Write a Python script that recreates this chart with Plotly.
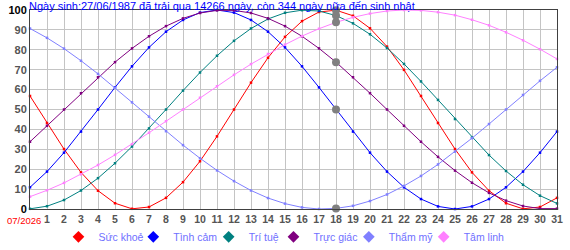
import plotly.graph_objects as go

days = list(range(0, 32))
x_labels = [str(d) for d in range(1, 32)]
month_label = "07/2026"
title_text = "Ngày sinh:27/06/1987 đã trải qua 14266 ngày, còn 344 ngày nữa đến sinh nhật"
today = 18

names = ["Sức khoẻ", "Tình cảm", "Trí tuệ", "Trực giác", "Thẩm mỹ", "Tâm linh"]
colors = ["#ff0000", "#0000ff", "#008080", "#800080", "#8080ff", "#ff80ff"]

suc_khoe = [56.8, 43.2, 30.1, 18.4, 9.2, 2.9, 0.1, 1.0, 5.6, 13.5, 24.0, 36.5, 50.0, 63.5, 76.0, 86.5,
            94.4, 99.0, 99.9, 97.1, 90.8, 81.6, 69.9, 56.8, 43.2, 30.1, 18.4, 9.2, 2.9, 0.1, 1.0, 5.6]
tinh_cam = [10.9, 18.8, 28.3, 38.9, 50.0, 61.1, 71.7, 81.2, 89.1, 95.0, 98.7, 100.0, 98.7, 95.0, 89.1, 81.2,
            71.7, 61.1, 50.0, 38.9, 28.3, 18.8, 10.9, 5.0, 1.3, 0.0, 1.3, 5.0, 10.9, 18.8, 28.3, 38.9]
tri_tue = [0.1, 1.4, 4.5, 9.3, 15.5, 23.0, 31.4, 40.5, 50.0, 59.5, 68.6, 77.0, 84.5, 90.7, 95.5, 98.6,
           99.9, 99.5, 97.2, 93.3, 87.8, 80.9, 72.9, 64.1, 54.8, 45.2, 35.9, 27.1, 19.1, 12.2, 6.7, 2.8]
truc_giac = [33.8, 41.8, 50.0, 58.2, 66.2, 73.8, 80.7, 86.8, 91.9, 95.8, 98.5, 99.8, 99.8, 98.5, 95.8, 91.9,
             86.8, 80.7, 73.8, 66.2, 58.2, 50.0, 41.8, 33.8, 26.2, 19.3, 13.2, 8.1, 4.2, 1.5, 0.2, 0.2]
tham_my = [90.7, 86.0, 80.6, 74.5, 67.9, 60.9, 53.6, 46.4, 39.1, 32.1, 25.5, 19.4, 14.0, 9.3, 5.5, 2.7,
           0.8, 0.0, 0.3, 1.6, 4.0, 7.3, 11.6, 16.6, 22.4, 28.8, 35.6, 42.7, 50.0, 57.3, 64.4, 71.2]
tam_linh = [6.2, 9.4, 13.1, 17.4, 22.1, 27.2, 32.6, 38.3, 44.1, 50.0, 55.9, 61.7, 67.4, 72.8, 77.9, 82.6,
            86.9, 90.6, 93.8, 96.3, 98.2, 99.5, 100.0, 99.8, 98.9, 97.4, 95.1, 92.3, 88.8, 84.8, 80.3, 75.4]

series = [suc_khoe, tinh_cam, tri_tue, truc_giac, tham_my, tam_linh]

# legend entry left edges (paper fraction of the plot width)
legend_x = [0.054, 0.196, 0.339, 0.462, 0.605, 0.747]
legend_ids = ["legend", "legend2", "legend3", "legend4", "legend5", "legend6"]

fig = go.Figure()
for name, col, vals in zip(names, colors, series):
    fig.add_trace(go.Scatter(
        x=days, y=vals, mode="lines+markers", name=name, showlegend=False,
        line=dict(color=col, width=1), marker=dict(color=col, size=2.5, symbol="square"),
        cliponaxis=False, hoverinfo="skip"))

fig.add_trace(go.Scatter(
    x=[today] * len(series), y=[s[today] for s in series], mode="markers", showlegend=False,
    marker=dict(color="#808080", size=8), cliponaxis=False, hoverinfo="skip"))

for name, col, lid in zip(names, colors, legend_ids):
    fig.add_trace(go.Scatter(
        x=[None], y=[None], mode="markers", name=name, legend=lid,
        marker=dict(color=col, size=9, symbol="diamond")))

ytickvals = list(range(0, 101, 10))
yticktext = []
for v in ytickvals:
    if v in (0, 100):
        yticktext.append("<span style='color:#000000'>%d</span>" % v)
    else:
        yticktext.append(str(v))

layout_legends = {}
for lid, lx in zip(legend_ids, legend_x):
    layout_legends[lid] = dict(orientation="h", x=lx, xanchor="left", y=-0.14, yanchor="middle",
                               font=dict(size=10.5, color="#7070ff"), bgcolor="rgba(0,0,0,0)",
                               itemclick=False, itemdoubleclick=False)

fig.update_layout(
    width=570, height=250,
    margin=dict(l=30, r=13, t=10, b=41, autoexpand=False),
    paper_bgcolor="white", plot_bgcolor="white",
    font=dict(family="Liberation Sans, Arial", size=10, color="#555555"),
    xaxis=dict(range=[0, 31], tickvals=list(range(1, 32)), ticktext=x_labels,
               showgrid=True, gridcolor="#c4c4c4", gridwidth=1, zeroline=False,
               showline=True, linecolor="#404040", linewidth=1, mirror=True,
               ticks="", tickfont=dict(size=10.5, color="#555555", weight="bold"),
               fixedrange=True),
    yaxis=dict(range=[0, 100], tickvals=ytickvals, ticktext=yticktext,
               showgrid=True, gridcolor="#c4c4c4", gridwidth=1, zeroline=False,
               showline=True, linecolor="#404040", linewidth=1, mirror=True,
               ticks="", tickfont=dict(size=11, color="#555555", weight="bold"),
               fixedrange=True),
    annotations=[
        dict(text=title_text, xref="paper", yref="paper", x=0, y=1, xanchor="left", yanchor="middle",
             xshift=-3, yshift=4, showarrow=False, font=dict(size=11, color="#0000ff")),
        dict(text=month_label, xref="x", yref="paper", x=0, y=0, xanchor="center", yanchor="top",
             xshift=-6, yshift=-4, showarrow=False, font=dict(size=9.5, color="#ff0000")),
    ],
    showlegend=True,
    **layout_legends,
)

fig.write_html("out.html", config={"displayModeBar": False})
